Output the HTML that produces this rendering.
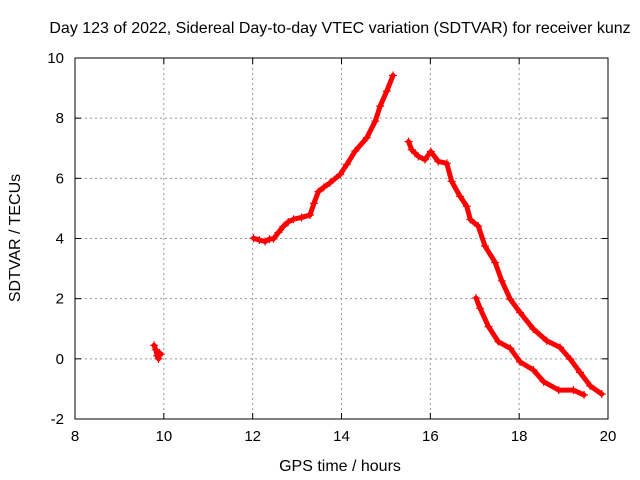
<!DOCTYPE html>
<html><head><meta charset="utf-8"><style>
body{margin:0;background:#fff}
svg{display:block;font-family:"Liberation Sans",sans-serif}
</style></head><body>
<svg id="chart" width="640" height="480">
<text x="340" y="33" text-anchor="middle" font-size="16">Day 123 of 2022, Sidereal Day-to-day VTEC variation (SDTVAR) for receiver kunz</text>
<text x="340" y="471" text-anchor="middle" font-size="16">GPS time / hours</text>
<text transform="translate(20,238) rotate(-90)" text-anchor="middle" font-size="16">SDTVAR / TECUs</text>
<g id="grid"></g><g id="axes"></g><g id="series"></g>
<rect x="75" y="58" width="533" height="361" fill="none" stroke="#000"/>
</svg>
<script>
const xTicks=[8,10,12,14,16,18,20];
const yTicks=[-2,0,2,4,6,8,10];
const segA=[[9.78,0.45],[9.82,0.3],[9.85,0.1],[9.88,0.0],[9.9,0.2],[9.93,0.15]];
const segB=[[12.02,4.01],[12.15,3.95],[12.28,3.9],[12.38,3.98],[12.47,3.99],[12.58,4.2],[12.69,4.4],[12.8,4.55],[12.92,4.64],[13.1,4.7],[13.29,4.78],[13.38,5.17],[13.48,5.56],[13.6,5.7],[13.74,5.85],[13.97,6.13],[14.12,6.46],[14.31,6.91],[14.57,7.35],[14.76,7.9],[14.87,8.4],[15.02,8.9],[15.16,9.42]];
const segC=[[15.51,7.22],[15.58,6.95],[15.73,6.73],[15.88,6.62],[16.01,6.89],[16.18,6.56],[16.37,6.5],[16.48,5.9],[16.67,5.4],[16.82,5.07],[16.9,4.63],[17.08,4.41],[17.23,3.75],[17.46,3.2],[17.61,2.59],[17.8,1.98],[18.02,1.54],[18.32,0.99],[18.62,0.6],[18.92,0.38],[19.15,-0.01],[19.37,-0.45],[19.6,-0.9],[19.86,-1.17]];
const segD=[[17.03,2.02],[17.12,1.68],[17.31,1.07],[17.53,0.57],[17.8,0.35],[18.02,-0.1],[18.32,-0.37],[18.55,-0.76],[18.89,-1.04],[19.22,-1.04],[19.46,-1.2]];
const NS="http://www.w3.org/2000/svg";
const X0=75,X1=608,Y0=419,Y1=58;
function sx(v){return X0+(v-8)/12*(X1-X0);}
function sy(v){return Y0-(v+2)/12*(Y0-Y1);}
function mk(t,a,p){const e=document.createElementNS(NS,t);for(const k in a)e.setAttribute(k,a[k]);p.appendChild(e);return e;}
const grid=document.getElementById('grid'),axes=document.getElementById('axes'),ser=document.getElementById('series');
xTicks.forEach(t=>{const x=sx(t);
 if(t>8&&t<20){const g=mk('line',{x1:x,x2:x,y1:Y1,y2:Y0,stroke:'#999','stroke-dasharray':'2,3'},grid);
 
 }
 mk('line',{x1:x,x2:x,y1:Y0,y2:Y0-6,stroke:'#000'},axes);
 mk('line',{x1:x,x2:x,y1:Y1,y2:Y1+6,stroke:'#000'},axes);
 const l=mk('text',{x:x,y:Y0+22,'text-anchor':'middle','font-size':15},axes);l.textContent=t;
 
 });
yTicks.forEach(t=>{const y=sy(t);
 if(t>-2&&t<10){const g=mk('line',{x1:X0,x2:X1,y1:y,y2:y,stroke:'#999','stroke-dasharray':'2,3'},grid);
 
 }
 mk('line',{x1:X0,x2:X0+6,y1:y,y2:y,stroke:'#000'},axes);
 mk('line',{x1:X1,x2:X1-6,y1:y,y2:y,stroke:'#000'},axes);
 const l=mk('text',{x:X0-11,y:y+5,'text-anchor':'end','font-size':15},axes);l.textContent=t;
 
 });
[segA,segB,segC,segD].forEach((s,i)=>{
 const g=mk('g',{},ser);
 
 
 mk('polyline',{points:s.map(p=>sx(p[0])+','+sy(p[1])).join(' '),fill:'none',stroke:'#f00','stroke-width':5,'stroke-linejoin':'round','stroke-linecap':'round'},g);
 s.forEach(p=>{const x=sx(p[0]),y=sy(p[1]);
  const m=mk('path',{d:`M${x-4},${y}H${x+4}M${x},${y-4}V${y+4}`,stroke:'#f00','stroke-width':1.2},g);
  
  });
});
</script>
</body></html>
